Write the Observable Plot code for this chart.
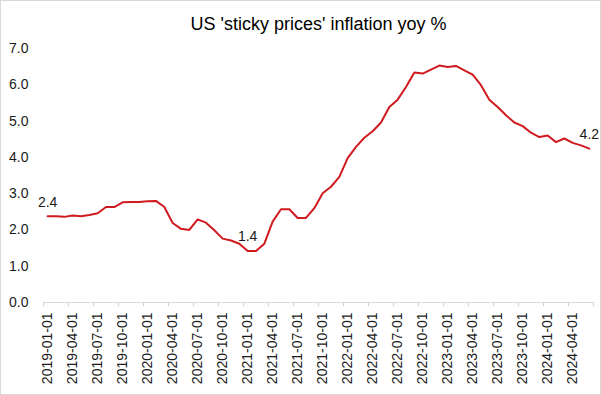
<!DOCTYPE html>
<html>
<head>
<meta charset="utf-8">
<script src="https://cdn.jsdelivr.net/npm/d3@7"></script>
<script src="https://cdn.jsdelivr.net/npm/@observablehq/plot@0.6"></script>
<style>
  html, body { margin: 0; padding: 0; background: #fff; }
  #chart svg { display: block; outline: 1px solid #d9d9d9; outline-offset: -1px; }
</style>
</head>
<body>
<div id="chart"></div>
<script>
const title = "US 'sticky prices' inflation yoy %";

// Monthly observations, 2019-01 .. 2024-06 (one value per month)
const values2019 = [2.38, 2.38, 2.36, 2.40, 2.38, 2.41, 2.46, 2.63, 2.63, 2.76, 2.77, 2.77];
const values2020 = [2.79, 2.80, 2.63, 2.19, 2.03, 2.00, 2.29, 2.20, 1.99, 1.76, 1.71, 1.62];
const values2021 = [1.42, 1.42, 1.62, 2.23, 2.57, 2.57, 2.33, 2.33, 2.60, 3.01, 3.19, 3.46];
const values2022 = [3.98, 4.29, 4.54, 4.72, 4.96, 5.39, 5.59, 5.94, 6.34, 6.31, 6.42, 6.53];
const values2023 = [6.49, 6.52, 6.40, 6.28, 5.99, 5.59, 5.39, 5.16, 4.96, 4.86, 4.68, 4.56];
const values2024 = [4.60, 4.42, 4.52, 4.40, 4.33, 4.24];

// Category tick labels (every third month)
const tickLabels = [
  "2019-01-01", "2019-04-01", "2019-07-01", "2019-10-01",
  "2020-01-01", "2020-04-01", "2020-07-01", "2020-10-01",
  "2021-01-01", "2021-04-01", "2021-07-01", "2021-10-01",
  "2022-01-01", "2022-04-01", "2022-07-01", "2022-10-01",
  "2023-01-01", "2023-04-01", "2023-07-01", "2023-10-01",
  "2024-01-01", "2024-04-01"
];
const yTicks = [0, 1, 2, 3, 4, 5, 6, 7];

// Data labels
const annotIndex = [0, 24, 65];
const annotText = ["2.4", "1.4", "4.2"];

const values = [...values2019, ...values2020, ...values2021, ...values2022, ...values2023, ...values2024];
const data = values.map((v, i) => ({i, v}));
const n = values.length;
const labelIdx = tickLabels.map((_, k) => k * 3);
const boundaryIdx = d3.range(0, n + 1, 3).map(k => k - 0.5);
const annots = annotIndex.map((i, k) => ({i, v: values[i], t: annotText[k]}));

const font = "'Liberation Sans', Arial, sans-serif";
const ink = "#1a1a1a";

const chart = Plot.plot({
  width: 601,
  height: 395,
  marginLeft: 43,
  marginRight: 8,
  marginTop: 48,
  marginBottom: 93,
  style: {fontFamily: font, fontSize: "14px", color: ink, background: "#fff"},
  x: {type: "linear", domain: [-0.5, n - 0.5]},
  y: {domain: [0, 7]},
  marks: [
    Plot.ruleY([0], {stroke: "#d9d9d9", strokeWidth: 1}),
    Plot.axisX({ticks: boundaryIdx, tickSize: 4, tickFormat: () => "", stroke: "#d0d0d0", label: null}),
    Plot.axisX({ticks: labelIdx, tickSize: 0, tickPadding: 10, tickRotate: -90,
                tickFormat: i => tickLabels[i / 3], fontSize: 14, fill: ink, label: null}),
    Plot.axisY({ticks: yTicks, tickSize: 0, tickPadding: 15, tickFormat: d3.format(".1f"),
                fontSize: 14, fill: ink, label: null}),
    Plot.lineY(data, {x: "i", y: "v", stroke: "#cf1a1f", strokeWidth: 2}),
    Plot.text(annots, {x: "i", y: "v", text: "t", dy: -14, fontSize: 14, fill: ink}),
    Plot.text([title], {frameAnchor: "top", dy: -31, fontSize: 18, fill: "#000"})
  ]
});
document.getElementById("chart").appendChild(chart);
</script>
</body>
</html>
